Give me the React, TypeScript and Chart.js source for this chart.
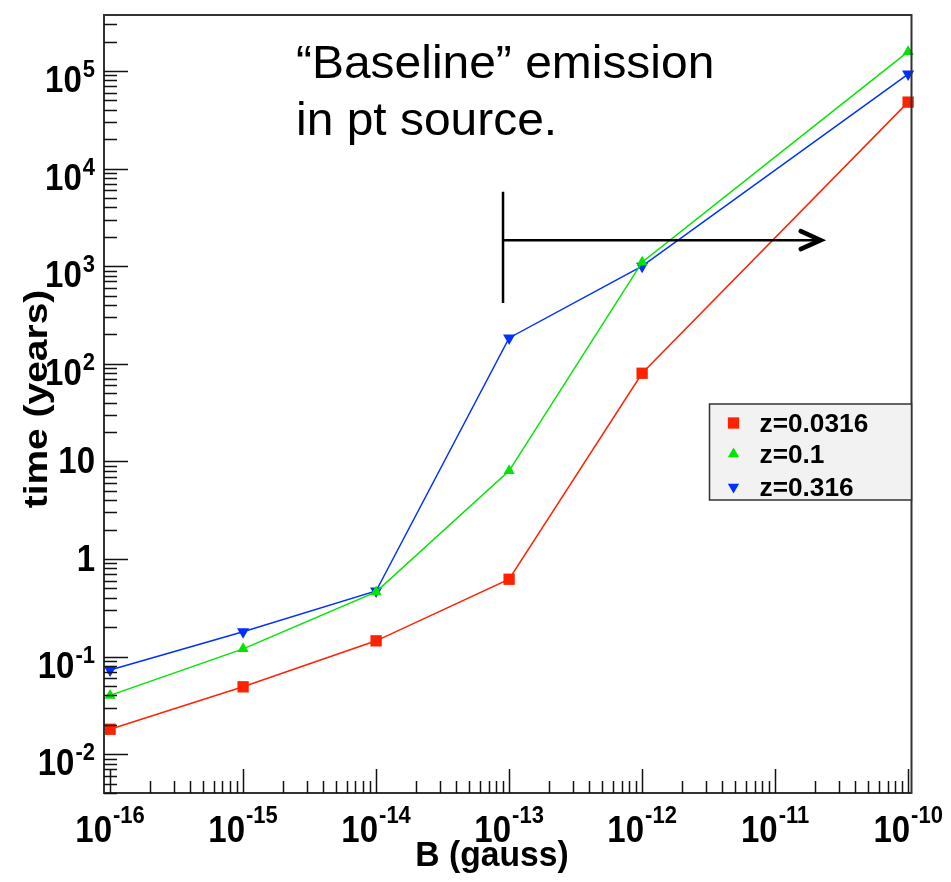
import React, { useEffect, useRef } from "react";
import { Chart, registerables } from "chart.js";

Chart.register(...registerables);

// ---- data ----
const B_VALUES = [1e-16, 1e-15, 1e-14, 1e-13, 1e-12, 1e-10];
const SERIES_LABELS = ["z=0.0316", "z=0.1", "z=0.316"];
const TIME_Z0316 = [0.018, 0.049, 0.145, 0.62, 80, 48000];
const TIME_Z01 = [0.04, 0.12, 0.46, 8.0, 1100, 158000];
const TIME_Z0316B = [0.073, 0.18, 0.47, 184, 1000, 93000];

const X_TICK_EXPONENTS = [-16, -15, -14, -13, -12, -11, -10];
const Y_TICK_EXPONENTS = [-2, -1, 0, 1, 2, 3, 4, 5];
const X_RANGE = [9.25e-17, 1.06e-10];
const Y_RANGE = [4.0e-3, 3.75e5];

const X_TITLE = "B (gauss)";
const Y_TITLE = "time (years)";
const NOTE_LINES = ["\u201CBaseline\u201D emission", "in pt source."];
// arrow annotation, in data coordinates
const ARROW = { x: 9e-14, yLow: 420, yHigh: 5800, y: 1850, xEnd: 2.2e-11 };

const COLORS = ["#ff2200", "#00e600", "#0030ff"];
const FONT = "'Liberation Sans', Arial, Helvetica, sans-serif";

function drawText(
  ctx: CanvasRenderingContext2D,
  text: string,
  x: number,
  y: number,
  font: string,
  align: CanvasTextAlign,
  sx = 1,
  sy = 1
) {
  ctx.save();
  ctx.font = font;
  ctx.textAlign = align;
  ctx.textBaseline = "alphabetic";
  ctx.fillStyle = "#000";
  ctx.translate(x, y);
  ctx.scale(sx, sy);
  ctx.fillText(text, 0, 0);
  ctx.restore();
}

function measure(ctx: CanvasRenderingContext2D, text: string, font: string) {
  ctx.save();
  ctx.font = font;
  const w = ctx.measureText(text).width;
  ctx.restore();
  return w;
}

function drawMarker(
  ctx: CanvasRenderingContext2D,
  style: string,
  x: number,
  y: number,
  r: number,
  rot: number,
  color: string
) {
  ctx.save();
  ctx.fillStyle = color;
  ctx.beginPath();
  if (style === "rect") {
    const s = r * Math.SQRT1_2;
    ctx.rect(x - s, y - s, 2 * s, 2 * s);
  } else {
    let a = (rot * Math.PI) / 180;
    ctx.moveTo(x + Math.sin(a) * r, y - Math.cos(a) * r);
    a += (2 * Math.PI) / 3;
    ctx.lineTo(x + Math.sin(a) * r, y - Math.cos(a) * r);
    a += (2 * Math.PI) / 3;
    ctx.lineTo(x + Math.sin(a) * r, y - Math.cos(a) * r);
    ctx.closePath();
  }
  ctx.fill();
  ctx.restore();
}

const rootFramePlugin = {
  id: "rootFrame",
  afterDatasetsDraw(chart: any) {
    const ctx: CanvasRenderingContext2D = chart.ctx;
    const { left, right, top, bottom } = chart.chartArea;
    const xs = chart.scales.x;
    const ys = chart.scales.y;

    // frame
    ctx.save();
    ctx.strokeStyle = "#333";
    ctx.lineWidth = 2;
    ctx.strokeRect(left, top, right - left, bottom - top);
    ctx.restore();

    // ticks (major at decades, minor at 2..9)
    ctx.save();
    ctx.strokeStyle = "#111";
    ctx.lineWidth = 1.5;
    ctx.beginPath();
    for (let d = -17; d <= -9; d++) {
      for (let m = 1; m <= 9; m++) {
        const v = m * Math.pow(10, d);
        if (v < X_RANGE[0] || v > X_RANGE[1]) continue;
        const px = Math.round(xs.getPixelForValue(v)) + 0.5;
        const len = m === 1 ? 24 : 12;
        ctx.moveTo(px, bottom);
        ctx.lineTo(px, bottom - len);
      }
    }
    for (let d = -3; d <= 6; d++) {
      for (let m = 1; m <= 9; m++) {
        const v = m * Math.pow(10, d);
        if (v < Y_RANGE[0] || v > Y_RANGE[1]) continue;
        const py = Math.round(ys.getPixelForValue(v)) + 0.5;
        const len = m === 1 ? 24 : 13;
        ctx.moveTo(left, py);
        ctx.lineTo(left + len, py);
      }
    }
    ctx.stroke();
    ctx.restore();

    const baseFont = `bold 33px ${FONT}`;
    const supFont = `bold 22px ${FONT}`;
    const SY = 1.1;

    // y tick labels
    for (const e of Y_TICK_EXPONENTS) {
      const py = ys.getPixelForValue(Math.pow(10, e));
      const rx = left - 9;
      if (e === 0 || e === 1) {
        drawText(ctx, e === 0 ? "1" : "10", rx, py + 12, baseFont, "right", 1, SY);
      } else {
        const sup = String(e);
        const sw = measure(ctx, sup, supFont);
        drawText(ctx, sup, rx, py + 6, supFont, "right", 1, SY);
        drawText(ctx, "10", rx - sw - 1, py + 21, baseFont, "right", 1, SY);
      }
    }

    // x tick labels
    for (const e of X_TICK_EXPONENTS) {
      const px = xs.getPixelForValue(Math.pow(10, e));
      const sup = String(e);
      const bw = measure(ctx, "10", baseFont);
      const sw = measure(ctx, sup, supFont);
      const x0 = px - (bw + sw + 1) / 2;
      drawText(ctx, "10", x0, bottom + 49, baseFont, "left", 1, SY);
      drawText(ctx, sup, x0 + bw + 1, bottom + 30, supFont, "left", 1, SY);
    }

    // axis titles
    drawText(ctx, X_TITLE, 492, bottom + 73, `bold 33px ${FONT}`, "center", 1.02, 1.08);
    ctx.save();
    ctx.translate(left - 57, (top + bottom) / 2 - 5);
    ctx.rotate(-Math.PI / 2);
    drawText(ctx, Y_TITLE, 0, 0, `bold 33px ${FONT}`, "center", 1.18, 1);
    ctx.restore();

    // legend box
    const bx1 = right;
    const bx0 = right - 202;
    const by0 = 404;
    const by1 = 500;
    ctx.save();
    ctx.fillStyle = "#f2f2f2";
    ctx.fillRect(bx0, by0, bx1 - bx0, by1 - by0);
    ctx.strokeStyle = "#333";
    ctx.lineWidth = 1.5;
    ctx.strokeRect(bx0, by0, bx1 - bx0, by1 - by0);
    ctx.restore();
    const rows = [by0 + 19, by0 + 50, by0 + 83];
    chart.data.datasets.forEach((ds: any, i: number) => {
      const sty = ds.pointStyle;
      const rot = ds.pointRotation || 0;
      drawMarker(ctx, sty, bx0 + 24, rows[i], sty === "rect" ? 8 : 6.5, rot, ds.backgroundColor);
      drawText(ctx, ds.label, bx0 + 50, rows[i] + 9, `bold 25px ${FONT}`, "left", 1.05, 1);
    });

    // annotation arrow
    const ax = xs.getPixelForValue(ARROW.x);
    const ay = ys.getPixelForValue(ARROW.y);
    const ax2 = xs.getPixelForValue(ARROW.xEnd);
    ctx.save();
    ctx.strokeStyle = "#000";
    ctx.lineWidth = 2.5;
    ctx.beginPath();
    ctx.moveTo(ax, ys.getPixelForValue(ARROW.yLow));
    ctx.lineTo(ax, ys.getPixelForValue(ARROW.yHigh));
    ctx.moveTo(ax, ay);
    ctx.lineTo(ax2 - 2, ay);
    ctx.stroke();
    ctx.lineWidth = 4.5;
    ctx.lineCap = "round";
    ctx.lineJoin = "miter";
    ctx.beginPath();
    ctx.moveTo(ax2 - 20, ay - 9);
    ctx.lineTo(ax2, ay);
    ctx.lineTo(ax2 - 20, ay + 9);
    ctx.stroke();
    ctx.restore();

    // note text
    NOTE_LINES.forEach((t, i) => {
      drawText(ctx, t, left + 192, top + 63 + i * 57, `47px ${FONT}`, "left", 1.02, 1);
    });
  },
};

function makeData(vals: number[]) {
  return B_VALUES.map((x, i) => ({ x, y: vals[i] }));
}

export default function App() {
  const ref = useRef<HTMLCanvasElement>(null);
  useEffect(() => {
    const canvas = ref.current;
    if (!canvas) return;
    const chart = new Chart(canvas, {
      type: "line",
      data: {
        datasets: [
          {
            label: SERIES_LABELS[0],
            data: makeData(TIME_Z0316),
            borderColor: COLORS[0],
            backgroundColor: COLORS[0],
            borderWidth: 1.5,
            pointStyle: "rect",
            pointRadius: 8,
            pointBorderWidth: 0,
            clip: false,
          } as any,
          {
            label: SERIES_LABELS[1],
            data: makeData(TIME_Z01),
            borderColor: COLORS[1],
            backgroundColor: COLORS[1],
            borderWidth: 1.5,
            pointStyle: "triangle",
            pointRadius: 6.5,
            pointBorderWidth: 0,
            clip: false,
          } as any,
          {
            label: SERIES_LABELS[2],
            data: makeData(TIME_Z0316B),
            borderColor: COLORS[2],
            backgroundColor: COLORS[2],
            borderWidth: 1.5,
            pointStyle: "triangle",
            pointRotation: 180,
            pointRadius: 7,
            pointBorderWidth: 0,
            clip: false,
          } as any,
        ],
      },
      options: {
        responsive: true,
        maintainAspectRatio: false,
        animation: false,
        layout: { padding: { left: 104, top: 15, right: 39.5, bottom: 89 } },
        plugins: { legend: { display: false }, tooltip: { enabled: false } },
        scales: {
          x: { type: "logarithmic", min: X_RANGE[0], max: X_RANGE[1], display: false },
          y: { type: "logarithmic", min: Y_RANGE[0], max: Y_RANGE[1], display: false },
        },
      },
      plugins: [rootFramePlugin],
    });
    return () => chart.destroy();
  }, []);
  return (
    <div
      style={{
        position: "fixed",
        left: 0,
        top: 0,
        width: 951,
        height: 882,
        background: "#fff",
      }}
    >
      <canvas ref={ref} />
    </div>
  );
}
